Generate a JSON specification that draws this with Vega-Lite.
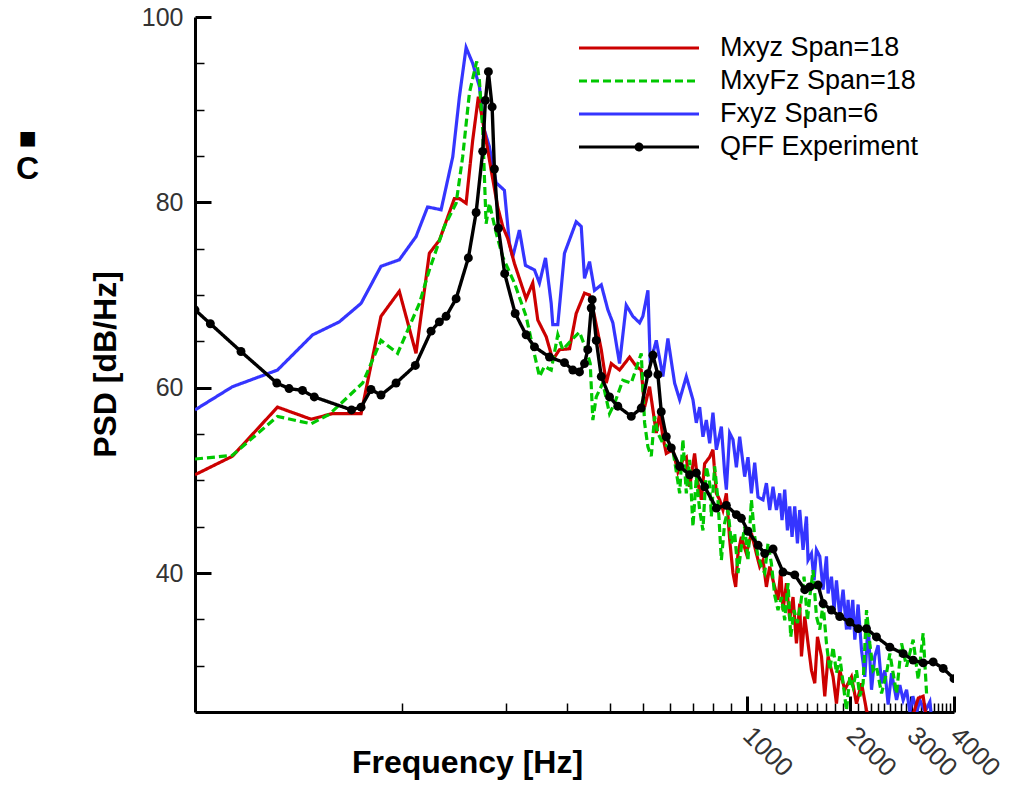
{
  "$schema": "https://vega.github.io/schema/vega-lite/v6.json",
  "autosize": {"type": "none"},
  "padding": {"left": 195, "top": 17, "right": 59, "bottom": 76},
  "width": 759,
  "height": 695,
  "background": "white",
  "config": {"view": {"stroke": null}, "font": "Liberation Sans"},
  "title": {"text": "■", "subtitle": "C", "anchor": "middle", "frame": "group", "orient": "top", "offset": 0, "dx": -547, "dy": 180, "font": "Liberation Sans", "fontSize": 30, "color": "black", "subtitleFont": "Liberation Sans", "subtitleFontSize": 32, "subtitleFontWeight": "bold", "subtitleColor": "black", "subtitlePadding": 0},
  "datasets": {
    "blue": [
      {"series":"Fxyz Span=6","freq":25,"psd":57.6},{"series":"Fxyz Span=6","freq":32.1,"psd":60.1},{"series":"Fxyz Span=6","freq":43.4,"psd":61.9},{"series":"Fxyz Span=6","freq":54.9,"psd":65.7},{"series":"Fxyz Span=6","freq":65.6,"psd":67.1},{"series":"Fxyz Span=6","freq":75.9,"psd":69.1},{"series":"Fxyz Span=6","freq":86.7,"psd":73.1},{"series":"Fxyz Span=6","freq":98.0,"psd":73.8},{"series":"Fxyz Span=6","freq":109.6,"psd":76.3},{"series":"Fxyz Span=6","freq":118.4,"psd":79.5},{"series":"Fxyz Span=6","freq":129.6,"psd":79.2},{"series":"Fxyz Span=6","freq":140.1,"psd":84.9},{"series":"Fxyz Span=6","freq":146.5,"psd":91.4},{"series":"Fxyz Span=6","freq":153.2,"psd":96.7},{"series":"Fxyz Span=6","freq":160.1,"psd":95.0},{"series":"Fxyz Span=6","freq":167.4,"psd":92.5},{"series":"Fxyz Span=6","freq":173.1,"psd":87.8},{"series":"Fxyz Span=6","freq":179.0,"psd":86.0},{"series":"Fxyz Span=6","freq":187.3,"psd":82.1},{"series":"Fxyz Span=6","freq":197.9,"psd":81.3},{"series":"Fxyz Span=6","freq":204.6,"psd":75.6},{"series":"Fxyz Span=6","freq":209.2,"psd":74.1},{"series":"Fxyz Span=6","freq":218.8,"psd":77.0},{"series":"Fxyz Span=6","freq":227.8,"psd":73.2},{"series":"Fxyz Span=6","freq":242.0,"psd":72.7},{"series":"Fxyz Span=6","freq":250.2,"psd":71.3},{"series":"Fxyz Span=6","freq":260.5,"psd":74.0},{"series":"Fxyz Span=6","freq":270.6,"psd":69.1},{"series":"Fxyz Span=6","freq":273.5,"psd":66.8},{"series":"Fxyz Span=6","freq":282.8,"psd":66.8},{"series":"Fxyz Span=6","freq":295.7,"psd":74.5},{"series":"Fxyz Span=6","freq":319.8,"psd":77.9},{"series":"Fxyz Span=6","freq":330.8,"psd":77.4},{"series":"Fxyz Span=6","freq":338.1,"psd":71.8},{"series":"Fxyz Span=6","freq":349.7,"psd":73.6},{"series":"Fxyz Span=6","freq":361.5,"psd":70.5},{"series":"Fxyz Span=6","freq":378.2,"psd":71.1},{"series":"Fxyz Span=6","freq":395.3,"psd":68.4},{"series":"Fxyz Span=6","freq":408.7,"psd":67.0},{"series":"Fxyz Span=6","freq":427.4,"psd":62.6},{"series":"Fxyz Span=6","freq":447.0,"psd":68.9},{"series":"Fxyz Span=6","freq":467.2,"psd":67.7},{"series":"Fxyz Span=6","freq":488.7,"psd":67.0},{"series":"Fxyz Span=6","freq":499.5,"psd":67.7},{"series":"Fxyz Span=6","freq":516.7,"psd":70.5},{"series":"Fxyz Span=6","freq":524.9,"psd":62.6},{"series":"Fxyz Span=6","freq":546.4,"psd":65.1},{"series":"Fxyz Span=6","freq":571.0,"psd":61.2},{"series":"Fxyz Span=6","freq":590.5,"psd":65.3},{"series":"Fxyz Span=6","freq":617.6,"psd":60.5},{"series":"Fxyz Span=6","freq":638.8,"psd":58.7},{"series":"Fxyz Span=6","freq":667.9,"psd":61.2},{"series":"Fxyz Span=6","freq":698.2,"psd":58.7},{"series":"Fxyz Span=6","freq":714.1,"psd":56.2},{"series":"Fxyz Span=6","freq":730.2,"psd":57.9},{"series":"Fxyz Span=6","freq":746.4,"psd":54.7},{"series":"Fxyz Span=6","freq":763.6,"psd":56.5},{"series":"Fxyz Span=6","freq":780.7,"psd":54.0},{"series":"Fxyz Span=6","freq":798.1,"psd":57.3},{"series":"Fxyz Span=6","freq":816.5,"psd":53.3},{"series":"Fxyz Span=6","freq":844.3,"psd":55.8},{"series":"Fxyz Span=6","freq":863.1,"psd":50.8},{"series":"Fxyz Span=6","freq":873.0,"psd":49.0},{"series":"Fxyz Span=6","freq":892.5,"psd":55.1},{"series":"Fxyz Span=6","freq":912.4,"psd":54.4},{"series":"Fxyz Span=6","freq":933.4,"psd":51.4},{"series":"Fxyz Span=6","freq":954.3,"psd":54.7},{"series":"Fxyz Span=6","freq":986.8,"psd":50.4},{"series":"Fxyz Span=6","freq":1008.8,"psd":52.5},{"series":"Fxyz Span=6","freq":1032.1,"psd":48.6},{"series":"Fxyz Span=6","freq":1055.1,"psd":51.9},{"series":"Fxyz Span=6","freq":1078.7,"psd":48.2},{"series":"Fxyz Span=6","freq":1115.4,"psd":47.9},{"series":"Fxyz Span=6","freq":1141.0,"psd":49.7},{"series":"Fxyz Span=6","freq":1166.5,"psd":46.8},{"series":"Fxyz Span=6","freq":1192.6,"psd":49.3},{"series":"Fxyz Span=6","freq":1220.0,"psd":46.8},{"series":"Fxyz Span=6","freq":1247.3,"psd":48.6},{"series":"Fxyz Span=6","freq":1266.6,"psd":45.7},{"series":"Fxyz Span=6","freq":1289.7,"psd":49.0},{"series":"Fxyz Span=6","freq":1313.2,"psd":44.6},{"series":"Fxyz Span=6","freq":1333.6,"psd":47.2},{"series":"Fxyz Span=6","freq":1354.3,"psd":43.9},{"series":"Fxyz Span=6","freq":1379.0,"psd":47.2},{"series":"Fxyz Span=6","freq":1404.2,"psd":43.2},{"series":"Fxyz Span=6","freq":1425.9,"psd":46.8},{"series":"Fxyz Span=6","freq":1457.8,"psd":42.5},{"series":"Fxyz Span=6","freq":1491.4,"psd":46.1},{"series":"Fxyz Span=6","freq":1507.4,"psd":41.4},{"series":"Fxyz Span=6","freq":1542.2,"psd":42.1},{"series":"Fxyz Span=6","freq":1569.3,"psd":39.2},{"series":"Fxyz Span=6","freq":1594.7,"psd":42.5},{"series":"Fxyz Span=6","freq":1630.2,"psd":41.8},{"series":"Fxyz Span=6","freq":1666.6,"psd":38.2},{"series":"Fxyz Span=6","freq":1705.0,"psd":41.8},{"series":"Fxyz Span=6","freq":1723.4,"psd":37.8},{"series":"Fxyz Span=6","freq":1763.1,"psd":39.6},{"series":"Fxyz Span=6","freq":1794.0,"psd":36.0},{"series":"Fxyz Span=6","freq":1823.0,"psd":39.2},{"series":"Fxyz Span=6","freq":1863.8,"psd":35.3},{"series":"Fxyz Span=6","freq":1905.4,"psd":38.2},{"series":"Fxyz Span=6","freq":1949.3,"psd":33.9},{"series":"Fxyz Span=6","freq":1970.3,"psd":37.1},{"series":"Fxyz Span=6","freq":1992.8,"psd":33.9},{"series":"Fxyz Span=6","freq":2033.2,"psd":37.1},{"series":"Fxyz Span=6","freq":2060.6,"psd":32.8},{"series":"Fxyz Span=6","freq":2106.6,"psd":36.6},{"series":"Fxyz Span=6","freq":2155.2,"psd":31.7},{"series":"Fxyz Span=6","freq":2203.3,"psd":28.8},{"series":"Fxyz Span=6","freq":2252.5,"psd":34.4},{"series":"Fxyz Span=6","freq":2304.4,"psd":27.4},{"series":"Fxyz Span=6","freq":2355.9,"psd":31.0},{"series":"Fxyz Span=6","freq":2408.5,"psd":32.2},{"series":"Fxyz Span=6","freq":2463.9,"psd":28.1},{"series":"Fxyz Span=6","freq":2519.0,"psd":29.5},{"series":"Fxyz Span=6","freq":2575.3,"psd":25.8},{"series":"Fxyz Span=6","freq":2634.5,"psd":29.2},{"series":"Fxyz Span=6","freq":2724.2,"psd":26.3},{"series":"Fxyz Span=6","freq":2785.1,"psd":27.9},{"series":"Fxyz Span=6","freq":2847.3,"psd":26.3},{"series":"Fxyz Span=6","freq":2912.9,"psd":27.4},{"series":"Fxyz Span=6","freq":2977.9,"psd":25.0},{"series":"Fxyz Span=6","freq":3038.3,"psd":26.7},{"series":"Fxyz Span=6","freq":3120.8,"psd":25.0},{"series":"Fxyz Span=6","freq":3184.1,"psd":26.3},{"series":"Fxyz Span=6","freq":3292.5,"psd":25.0},{"series":"Fxyz Span=6","freq":3404.6,"psd":26.1},{"series":"Fxyz Span=6","freq":3450.5,"psd":24.0}
    ],
    "red": [
      {"series":"Mxyz Span=18","freq":25,"psd":50.6},{"series":"Mxyz Span=18","freq":32.1,"psd":52.6},{"series":"Mxyz Span=18","freq":43.4,"psd":57.9},{"series":"Mxyz Span=18","freq":54.3,"psd":56.6},{"series":"Mxyz Span=18","freq":62.7,"psd":57.2},{"series":"Mxyz Span=18","freq":75.9,"psd":57.2},{"series":"Mxyz Span=18","freq":86.7,"psd":67.7},{"series":"Mxyz Span=18","freq":98.0,"psd":70.4},{"series":"Mxyz Span=18","freq":109.6,"psd":63.7},{"series":"Mxyz Span=18","freq":119.8,"psd":74.5},{"series":"Mxyz Span=18","freq":128.1,"psd":75.9},{"series":"Mxyz Span=18","freq":141.6,"psd":80.4},{"series":"Mxyz Span=18","freq":146.5,"psd":80.4},{"series":"Mxyz Span=18","freq":153.2,"psd":79.9},{"series":"Mxyz Span=18","freq":160.1,"psd":86.7},{"series":"Mxyz Span=18","freq":166.3,"psd":91.4},{"series":"Mxyz Span=18","freq":175.1,"psd":86.7},{"series":"Mxyz Span=18","freq":181.1,"psd":83.5},{"series":"Mxyz Span=18","freq":189.2,"psd":79.5},{"series":"Mxyz Span=18","freq":195.7,"psd":77.4},{"series":"Mxyz Span=18","freq":202.4,"psd":76.1},{"series":"Mxyz Span=18","freq":211.6,"psd":73.4},{"series":"Mxyz Span=18","freq":228.8,"psd":69.6},{"series":"Mxyz Span=18","freq":239.2,"psd":71.3},{"series":"Mxyz Span=18","freq":247.4,"psd":67.3},{"series":"Mxyz Span=18","freq":261.7,"psd":65.5},{"series":"Mxyz Span=18","freq":273.5,"psd":63.0},{"series":"Mxyz Span=18","freq":286.0,"psd":64.1},{"series":"Mxyz Span=18","freq":305.9,"psd":64.2},{"series":"Mxyz Span=18","freq":319.8,"psd":68.0},{"series":"Mxyz Span=18","freq":338.1,"psd":70.2},{"series":"Mxyz Span=18","freq":349.7,"psd":70.0},{"series":"Mxyz Span=18","freq":361.5,"psd":67.7},{"series":"Mxyz Span=18","freq":378.2,"psd":64.1},{"series":"Mxyz Span=18","freq":391.0,"psd":60.5},{"series":"Mxyz Span=18","freq":404.4,"psd":62.6},{"series":"Mxyz Span=18","freq":427.4,"psd":61.9},{"series":"Mxyz Span=18","freq":457.0,"psd":63.3},{"series":"Mxyz Span=18","freq":478.0,"psd":62.3},{"series":"Mxyz Span=18","freq":494.1,"psd":61.9},{"series":"Mxyz Span=18","freq":505.3,"psd":57.9},{"series":"Mxyz Span=18","freq":522.4,"psd":60.1},{"series":"Mxyz Span=18","freq":534.3,"psd":57.6},{"series":"Mxyz Span=18","freq":546.4,"psd":55.1},{"series":"Mxyz Span=18","freq":558.6,"psd":57.2},{"series":"Mxyz Span=18","freq":571.0,"psd":54.7},{"series":"Mxyz Span=18","freq":584.2,"psd":52.9},{"series":"Mxyz Span=18","freq":610.6,"psd":53.3},{"series":"Mxyz Span=18","freq":631.4,"psd":50.9},{"series":"Mxyz Span=18","freq":652.9,"psd":52.2},{"series":"Mxyz Span=18","freq":667.9,"psd":52.5},{"series":"Mxyz Span=18","freq":682.8,"psd":49.3},{"series":"Mxyz Span=18","freq":706.0,"psd":52.9},{"series":"Mxyz Span=18","freq":721.8,"psd":49.7},{"series":"Mxyz Span=18","freq":738.6,"psd":47.9},{"series":"Mxyz Span=18","freq":755.0,"psd":51.8},{"series":"Mxyz Span=18","freq":780.7,"psd":52.5},{"series":"Mxyz Span=18","freq":798.1,"psd":53.3},{"series":"Mxyz Span=18","freq":816.5,"psd":48.6},{"series":"Mxyz Span=18","freq":834.7,"psd":47.9},{"series":"Mxyz Span=18","freq":853.3,"psd":46.8},{"series":"Mxyz Span=18","freq":873.0,"psd":48.6},{"series":"Mxyz Span=18","freq":892.5,"psd":43.6},{"series":"Mxyz Span=18","freq":912.4,"psd":40.0},{"series":"Mxyz Span=18","freq":929.1,"psd":38.5},{"series":"Mxyz Span=18","freq":943.5,"psd":42.1},{"series":"Mxyz Span=18","freq":965.2,"psd":43.9},{"series":"Mxyz Span=18","freq":998.1,"psd":42.1},{"series":"Mxyz Span=18","freq":1032.1,"psd":44.3},{"series":"Mxyz Span=18","freq":1067.2,"psd":42.1},{"series":"Mxyz Span=18","freq":1091.0,"psd":40.7},{"series":"Mxyz Span=18","freq":1115.4,"psd":41.4},{"series":"Mxyz Span=18","freq":1141.0,"psd":38.5},{"series":"Mxyz Span=18","freq":1166.5,"psd":40.7},{"series":"Mxyz Span=18","freq":1192.6,"psd":39.2},{"series":"Mxyz Span=18","freq":1233.1,"psd":37.1},{"series":"Mxyz Span=18","freq":1255.7,"psd":40.3},{"series":"Mxyz Span=18","freq":1275.2,"psd":36.0},{"series":"Mxyz Span=18","freq":1304.5,"psd":38.9},{"series":"Mxyz Span=18","freq":1333.6,"psd":35.0},{"series":"Mxyz Span=18","freq":1363.4,"psd":37.4},{"series":"Mxyz Span=18","freq":1394.8,"psd":32.4},{"series":"Mxyz Span=18","freq":1425.9,"psd":36.7},{"series":"Mxyz Span=18","freq":1442.2,"psd":31.0},{"series":"Mxyz Span=18","freq":1474.5,"psd":35.3},{"series":"Mxyz Span=18","freq":1507.4,"psd":32.4},{"series":"Mxyz Span=18","freq":1542.2,"psd":29.5},{"series":"Mxyz Span=18","freq":1576.6,"psd":28.1},{"series":"Mxyz Span=18","freq":1605.4,"psd":33.1},{"series":"Mxyz Span=18","freq":1648.9,"psd":31.0},{"series":"Mxyz Span=18","freq":1685.7,"psd":26.7},{"series":"Mxyz Span=18","freq":1723.4,"psd":31.0},{"series":"Mxyz Span=18","freq":1782.0,"psd":28.8},{"series":"Mxyz Span=18","freq":1823.0,"psd":25.9},{"series":"Mxyz Span=18","freq":1863.8,"psd":29.5},{"series":"Mxyz Span=18","freq":1927.2,"psd":27.4},{"series":"Mxyz Span=18","freq":2015.6,"psd":28.8},{"series":"Mxyz Span=18","freq":2084.2,"psd":25.9},{"series":"Mxyz Span=18","freq":2155.2,"psd":28.1},{"series":"Mxyz Span=18","freq":2228.5,"psd":25.2},{"series":"Mxyz Span=18","freq":2278.3,"psd":24.0},{"series":"Mxyz Span=18","freq":3000,"psd":24.0},{"series":"Mxyz Span=18","freq":3150,"psd":26.5},{"series":"Mxyz Span=18","freq":3254,"psd":26.7},{"series":"Mxyz Span=18","freq":3337,"psd":24.0}
    ],
    "green": [
      {"series":"MxyFz Span=18","freq":25,"psd":52.3},{"series":"MxyFz Span=18","freq":32.1,"psd":52.7},{"series":"MxyFz Span=18","freq":43.4,"psd":56.9},{"series":"MxyFz Span=18","freq":54.3,"psd":56.1},{"series":"MxyFz Span=18","freq":61.3,"psd":57.1},{"series":"MxyFz Span=18","freq":76.7,"psd":60.5},{"series":"MxyFz Span=18","freq":86.7,"psd":65.1},{"series":"MxyFz Span=18","freq":96.9,"psd":63.7},{"series":"MxyFz Span=18","freq":112.1,"psd":69.1},{"series":"MxyFz Span=18","freq":119.8,"psd":72.7},{"series":"MxyFz Span=18","freq":132.5,"psd":77.4},{"series":"MxyFz Span=18","freq":143.3,"psd":79.9},{"series":"MxyFz Span=18","freq":149.7,"psd":84.9},{"series":"MxyFz Span=18","freq":156.6,"psd":91.8},{"series":"MxyFz Span=18","freq":164.4,"psd":95.2},{"series":"MxyFz Span=18","freq":167.4,"psd":93.2},{"series":"MxyFz Span=18","freq":171.2,"psd":87.8},{"series":"MxyFz Span=18","freq":175.1,"psd":77.7},{"series":"MxyFz Span=18","freq":179.0,"psd":79.9},{"series":"MxyFz Span=18","freq":187.3,"psd":76.7},{"series":"MxyFz Span=18","freq":195.7,"psd":74.1},{"series":"MxyFz Span=18","freq":211.6,"psd":71.3},{"series":"MxyFz Span=18","freq":228.8,"psd":67.7},{"series":"MxyFz Span=18","freq":239.2,"psd":64.4},{"series":"MxyFz Span=18","freq":250.2,"psd":61.2},{"series":"MxyFz Span=18","freq":258.7,"psd":62.3},{"series":"MxyFz Span=18","freq":270.6,"psd":61.9},{"series":"MxyFz Span=18","freq":282.8,"psd":65.7},{"series":"MxyFz Span=18","freq":292.4,"psd":64.1},{"series":"MxyFz Span=18","freq":309.3,"psd":65.1},{"series":"MxyFz Span=18","freq":326.9,"psd":66.0},{"series":"MxyFz Span=18","freq":342.0,"psd":64.1},{"series":"MxyFz Span=18","freq":351.3,"psd":62.6},{"series":"MxyFz Span=18","freq":357.5,"psd":56.5},{"series":"MxyFz Span=18","freq":365.7,"psd":59.0},{"series":"MxyFz Span=18","freq":382.2,"psd":60.5},{"series":"MxyFz Span=18","freq":399.7,"psd":57.2},{"series":"MxyFz Span=18","freq":413.3,"psd":58.3},{"series":"MxyFz Span=18","freq":436.9,"psd":60.8},{"series":"MxyFz Span=18","freq":462.2,"psd":60.5},{"series":"MxyFz Span=18","freq":483.1,"psd":62.6},{"series":"MxyFz Span=18","freq":494.1,"psd":63.7},{"series":"MxyFz Span=18","freq":505.3,"psd":56.2},{"series":"MxyFz Span=18","freq":516.7,"psd":53.6},{"series":"MxyFz Span=18","freq":528.4,"psd":52.6},{"series":"MxyFz Span=18","freq":540.2,"psd":56.9},{"series":"MxyFz Span=18","freq":552.2,"psd":55.1},{"series":"MxyFz Span=18","freq":571.0,"psd":54.0},{"series":"MxyFz Span=18","freq":610.6,"psd":53.3},{"series":"MxyFz Span=18","freq":638.8,"psd":48.6},{"series":"MxyFz Span=18","freq":652.8,"psd":54.4},{"series":"MxyFz Span=18","freq":667.9,"psd":48.6},{"series":"MxyFz Span=18","freq":682.8,"psd":52.2},{"series":"MxyFz Span=18","freq":698.2,"psd":45.0},{"series":"MxyFz Span=18","freq":714.1,"psd":50.4},{"series":"MxyFz Span=18","freq":730.2,"psd":46.8},{"series":"MxyFz Span=18","freq":746.4,"psd":44.6},{"series":"MxyFz Span=18","freq":763.6,"psd":51.5},{"series":"MxyFz Span=18","freq":780.7,"psd":49.7},{"series":"MxyFz Span=18","freq":789.6,"psd":46.1},{"series":"MxyFz Span=18","freq":807.2,"psd":51.5},{"series":"MxyFz Span=18","freq":825.2,"psd":47.9},{"series":"MxyFz Span=18","freq":844.3,"psd":41.4},{"series":"MxyFz Span=18","freq":863.1,"psd":45.4},{"series":"MxyFz Span=18","freq":882.4,"psd":46.8},{"series":"MxyFz Span=18","freq":902.7,"psd":43.2},{"series":"MxyFz Span=18","freq":922.9,"psd":44.3},{"series":"MxyFz Span=18","freq":943.5,"psd":40.0},{"series":"MxyFz Span=18","freq":965.2,"psd":42.8},{"series":"MxyFz Span=18","freq":986.8,"psd":45.0},{"series":"MxyFz Span=18","freq":1008.8,"psd":41.4},{"series":"MxyFz Span=18","freq":1032.1,"psd":47.9},{"series":"MxyFz Span=18","freq":1055.1,"psd":43.9},{"series":"MxyFz Span=18","freq":1078.7,"psd":41.8},{"series":"MxyFz Span=18","freq":1103.5,"psd":40.7},{"series":"MxyFz Span=18","freq":1128.1,"psd":40.0},{"series":"MxyFz Span=18","freq":1153.3,"psd":43.2},{"series":"MxyFz Span=18","freq":1179.9,"psd":41.0},{"series":"MxyFz Span=18","freq":1206.2,"psd":37.6},{"series":"MxyFz Span=18","freq":1233.1,"psd":36.0},{"series":"MxyFz Span=18","freq":1261.6,"psd":37.4},{"series":"MxyFz Span=18","freq":1289.7,"psd":34.9},{"series":"MxyFz Span=18","freq":1318.5,"psd":38.9},{"series":"MxyFz Span=18","freq":1342.6,"psd":33.1},{"series":"MxyFz Span=18","freq":1372.6,"psd":36.0},{"series":"MxyFz Span=18","freq":1404.2,"psd":34.6},{"series":"MxyFz Span=18","freq":1435.5,"psd":36.7},{"series":"MxyFz Span=18","freq":1467.6,"psd":39.6},{"series":"MxyFz Span=18","freq":1501.4,"psd":34.9},{"series":"MxyFz Span=18","freq":1524.7,"psd":37.4},{"series":"MxyFz Span=18","freq":1558.8,"psd":40.3},{"series":"MxyFz Span=18","freq":1594.7,"psd":35.3},{"series":"MxyFz Span=18","freq":1630.2,"psd":33.9},{"series":"MxyFz Span=18","freq":1666.6,"psd":36.7},{"series":"MxyFz Span=18","freq":1705.0,"psd":32.4},{"series":"MxyFz Span=18","freq":1743.1,"psd":29.5},{"series":"MxyFz Span=18","freq":1782.0,"psd":32.0},{"series":"MxyFz Span=18","freq":1823.0,"psd":29.2},{"series":"MxyFz Span=18","freq":1863.8,"psd":31.0},{"series":"MxyFz Span=18","freq":1905.4,"psd":28.1},{"series":"MxyFz Span=18","freq":1949.3,"psd":25.2},{"series":"MxyFz Span=18","freq":1992.8,"psd":28.8},{"series":"MxyFz Span=18","freq":2037.3,"psd":27.7},{"series":"MxyFz Span=18","freq":2084.2,"psd":29.5},{"series":"MxyFz Span=18","freq":2130.8,"psd":26.7},{"series":"MxyFz Span=18","freq":2178.4,"psd":28.1},{"series":"MxyFz Span=18","freq":2228.5,"psd":36.0},{"series":"MxyFz Span=18","freq":2278.3,"psd":32.4},{"series":"MxyFz Span=18","freq":2329.2,"psd":29.5},{"series":"MxyFz Span=18","freq":2382,"psd":29.9},{"series":"MxyFz Span=18","freq":2464,"psd":27.0},{"series":"MxyFz Span=18","freq":2548,"psd":29.2},{"series":"MxyFz Span=18","freq":2605,"psd":31.3},{"series":"MxyFz Span=18","freq":2724,"psd":27.0},{"series":"MxyFz Span=18","freq":2817,"psd":32.4},{"series":"MxyFz Span=18","freq":2913,"psd":29.9},{"series":"MxyFz Span=18","freq":3044,"psd":32.8},{"series":"MxyFz Span=18","freq":3148,"psd":28.5},{"series":"MxyFz Span=18","freq":3254,"psd":33.5},{"series":"MxyFz Span=18","freq":3330,"psd":27.0}
    ],
    "qff": [
      {"series":"QFF Experiment","freq":25,"psd":68.4},{"series":"QFF Experiment","freq":27.7,"psd":66.9},{"series":"QFF Experiment","freq":34.0,"psd":63.9},{"series":"QFF Experiment","freq":43.2,"psd":60.5},{"series":"QFF Experiment","freq":46.9,"psd":59.9},{"series":"QFF Experiment","freq":51.3,"psd":59.7},{"series":"QFF Experiment","freq":55.5,"psd":59.0},{"series":"QFF Experiment","freq":71.2,"psd":57.6},{"series":"QFF Experiment","freq":75.9,"psd":57.9},{"series":"QFF Experiment","freq":81.1,"psd":59.8},{"series":"QFF Experiment","freq":86.7,"psd":59.2},{"series":"QFF Experiment","freq":95.9,"psd":60.5},{"series":"QFF Experiment","freq":109.1,"psd":62.4},{"series":"QFF Experiment","freq":121.2,"psd":66.1},{"series":"QFF Experiment","freq":128.1,"psd":67.1},{"series":"QFF Experiment","freq":134.0,"psd":67.7},{"series":"QFF Experiment","freq":143.3,"psd":69.6},{"series":"QFF Experiment","freq":155.5,"psd":74.0},{"series":"QFF Experiment","freq":163.8,"psd":78.9},{"series":"QFF Experiment","freq":171.2,"psd":85.5},{"series":"QFF Experiment","freq":174.3,"psd":91.0},{"series":"QFF Experiment","freq":177.8,"psd":94.1},{"series":"QFF Experiment","freq":182.3,"psd":90.3},{"series":"QFF Experiment","freq":185.1,"psd":83.6},{"series":"QFF Experiment","freq":190.1,"psd":77.2},{"series":"QFF Experiment","freq":198.3,"psd":72.3},{"series":"QFF Experiment","freq":212.7,"psd":68.0},{"series":"QFF Experiment","freq":228.8,"psd":65.7},{"series":"QFF Experiment","freq":242.0,"psd":64.4},{"series":"QFF Experiment","freq":267.5,"psd":63.3},{"series":"QFF Experiment","freq":295.7,"psd":62.7},{"series":"QFF Experiment","freq":312.7,"psd":61.9},{"series":"QFF Experiment","freq":326.9,"psd":61.7},{"series":"QFF Experiment","freq":338.1,"psd":62.6},{"series":"QFF Experiment","freq":345.6,"psd":64.1},{"series":"QFF Experiment","freq":353.6,"psd":68.6},{"series":"QFF Experiment","freq":356.0,"psd":69.5},{"series":"QFF Experiment","freq":365.7,"psd":65.1},{"series":"QFF Experiment","freq":378.2,"psd":61.2},{"series":"QFF Experiment","freq":399.7,"psd":59.0},{"series":"QFF Experiment","freq":422.4,"psd":58.0},{"series":"QFF Experiment","freq":462.2,"psd":56.9},{"series":"QFF Experiment","freq":494.1,"psd":57.8},{"series":"QFF Experiment","freq":516.7,"psd":61.5},{"series":"QFF Experiment","freq":534.3,"psd":63.5},{"series":"QFF Experiment","freq":552.2,"psd":61.4},{"series":"QFF Experiment","freq":564.9,"psd":57.4},{"series":"QFF Experiment","freq":584.2,"psd":54.7},{"series":"QFF Experiment","freq":604.0,"psd":53.5},{"series":"QFF Experiment","freq":638.8,"psd":51.5},{"series":"QFF Experiment","freq":682.8,"psd":50.6},{"series":"QFF Experiment","freq":714.2,"psd":50.8},{"series":"QFF Experiment","freq":754.9,"psd":49.3},{"series":"QFF Experiment","freq":816.5,"psd":47.0},{"series":"QFF Experiment","freq":873.0,"psd":47.3},{"series":"QFF Experiment","freq":933.4,"psd":46.3},{"series":"QFF Experiment","freq":965.2,"psd":45.9},{"series":"QFF Experiment","freq":1009,"psd":44.5},{"series":"QFF Experiment","freq":1079,"psd":43.0},{"series":"QFF Experiment","freq":1128,"psd":42.1},{"series":"QFF Experiment","freq":1193,"psd":42.6},{"series":"QFF Experiment","freq":1275,"psd":40.1},{"series":"QFF Experiment","freq":1379,"psd":39.8},{"series":"QFF Experiment","freq":1475,"psd":38.2},{"series":"QFF Experiment","freq":1525,"psd":38.5},{"series":"QFF Experiment","freq":1612,"psd":38.7},{"series":"QFF Experiment","freq":1667,"psd":36.7},{"series":"QFF Experiment","freq":1763,"psd":36.0},{"series":"QFF Experiment","freq":1863,"psd":35.3},{"series":"QFF Experiment","freq":1993,"psd":34.7},{"series":"QFF Experiment","freq":2107,"psd":34.0},{"series":"QFF Experiment","freq":2228,"psd":34.0},{"series":"QFF Experiment","freq":2382,"psd":33.1},{"series":"QFF Experiment","freq":2605,"psd":32.0},{"series":"QFF Experiment","freq":2848,"psd":31.3},{"series":"QFF Experiment","freq":3044,"psd":30.6},{"series":"QFF Experiment","freq":3254,"psd":30.3},{"series":"QFF Experiment","freq":3480,"psd":30.4},{"series":"QFF Experiment","freq":3721,"psd":29.7},{"series":"QFF Experiment","freq":4000,"psd":28.6}
    ]
  },
  "encoding": {
    "x": {
      "field": "freq", "type": "quantitative",
      "scale": {"type": "log", "domain": [25, 4000], "nice": false},
      "axis": {
        "title": "Frequency [Hz]",
        "values": [100,200,300,400,500,600,700,800,900,1000,1100,1200,1300,1400,1500,1600,1700,1800,1900,2000,2100,2200,2300,2400,2500,2600,2700,2800,2900,3000,3100,3200,3300,3400,3500,3600,3700,3800,3900,4000],
        "labelExpr": "datum.value % 1000 == 0 ? '' + datum.value : ''",
        "labelAngle": 45, "labelAlign": "left", "labelBaseline": "middle",
        "labelFont": "Liberation Sans", "labelFontSize": 26, "labelColor": "#333333",
        "labelPadding": 35, "labelFlush": false, "labelOverlap": false, "labelBound": false,
        "tickSize": {"condition": {"test": "datum.value % 1000 == 0", "value": -16}, "value": -9},
        "tickWidth": {"condition": {"test": "datum.value % 1000 == 0", "value": 3}, "value": 1.5},
        "tickColor": "black", "domainColor": "black", "domainWidth": 3, "grid": false,
        "titleFont": "Liberation Sans", "titleFontSize": 32, "titleFontWeight": "bold", "titleColor": "black",
        "titleX": 272, "titleY": 60, "titleAlign": "center", "titleBaseline": "alphabetic"
      }
    },
    "y": {
      "field": "psd", "type": "quantitative",
      "scale": {"domain": [25, 100], "nice": false, "zero": false},
      "axis": {
        "title": "PSD [dB/Hz]",
        "values": [30,35,40,45,50,55,60,65,70,75,80,85,90,95,100],
        "labelExpr": "datum.value % 20 == 0 ? '' + datum.value : ''",
        "labelFont": "Liberation Sans", "labelFontSize": 25, "labelColor": "#333333",
        "labelPadding": 28, "labelFlush": false, "labelOverlap": false, "labelBaseline": "middle",
        "tickSize": {"condition": {"test": "datum.value % 20 == 0", "value": -16}, "value": -9},
        "tickWidth": {"condition": {"test": "datum.value % 20 == 0", "value": 3}, "value": 1.5},
        "tickColor": "black", "domainColor": "black", "domainWidth": 3, "grid": false,
        "titleFont": "Liberation Sans", "titleFontSize": 32, "titleFontWeight": "bold", "titleColor": "black",
        "titleX": -80, "titleY": 347, "titleAngle": -90, "titleAlign": "center", "titleBaseline": "alphabetic"
      }
    }
  },
  "layer": [
    {
      "data": {"name": "blue"},
      "mark": {"type": "line", "strokeWidth": 3.2, "clip": true},
      "encoding": {
        "color": {"field": "series", "type": "nominal",
          "scale": {"domain": ["Mxyz Span=18","MxyFz Span=18","Fxyz Span=6","QFF Experiment"], "range": ["#cc0000","#00c800","#3535ff","#000000"]},
          "legend": {"orient": "none", "legendX": 427.5, "legendY": 14.5, "title": null, "padding": 0, "rowPadding": 3,
            "symbolType": "M-4,0H4", "symbolSize": 900, "symbolStrokeWidth": 3,
            "labelFont": "Liberation Sans", "labelFontSize": 27, "labelColor": "black", "labelOffset": 64.5, "labelLimit": 400,
            "encode": {"symbols": {"update": {
              "shape": {"signal": "datum.value === 'QFF Experiment' ? 'M-4,0H4M-0.2,0A0.2,0.2 0 1,1 0.2,0A0.2,0.2 0 1,1 -0.2,0' : 'M-4,0H4'"},
              "fill": {"signal": "datum.value === 'QFF Experiment' ? 'black' : 'transparent'"}
            }}}
          }},
        "strokeDash": {"field": "series", "type": "nominal",
          "scale": {"domain": ["Mxyz Span=18","MxyFz Span=18","Fxyz Span=6","QFF Experiment"], "range": [[1,0],[8,4],[1,0],[1,0]]},
          "legend": {"orient": "none", "legendX": 427.5, "legendY": 14.5, "title": null}}
      }
    },
    {
      "data": {"name": "red"},
      "mark": {"type": "line", "strokeWidth": 3.2, "clip": true},
      "encoding": {
        "color": {"field": "series", "type": "nominal"},
        "strokeDash": {"field": "series", "type": "nominal"}
      }
    },
    {
      "data": {"name": "green"},
      "mark": {"type": "line", "strokeWidth": 3.2, "clip": true},
      "encoding": {
        "color": {"field": "series", "type": "nominal"},
        "strokeDash": {"field": "series", "type": "nominal"}
      }
    },
    {
      "data": {"name": "qff"},
      "mark": {"type": "line", "strokeWidth": 3.4, "clip": true},
      "encoding": {
        "color": {"field": "series", "type": "nominal"},
        "strokeDash": {"field": "series", "type": "nominal"}
      }
    },
    {
      "data": {"name": "qff"},
      "mark": {"type": "point", "filled": true, "size": 80, "opacity": 1, "color": "black", "clip": true},
      "encoding": {}
    }
  ]
}
